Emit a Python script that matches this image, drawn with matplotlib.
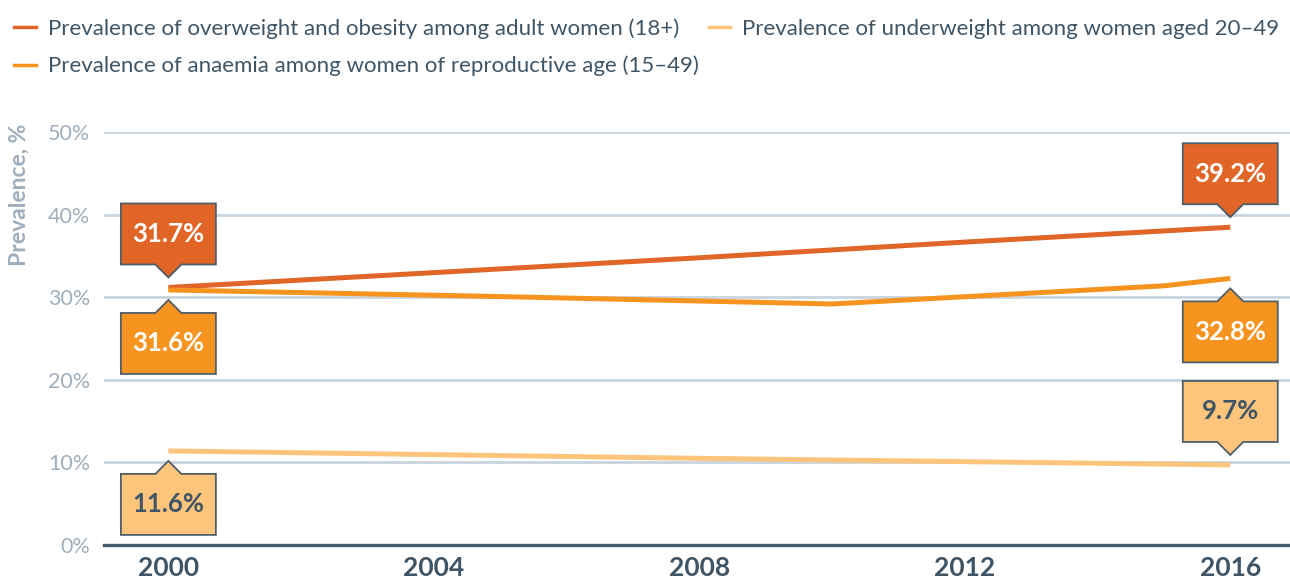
import numpy as np
import matplotlib
matplotlib.use('Agg')
import matplotlib.pyplot as plt
import matplotlib.transforms as mtransforms
from matplotlib.patches import Polygon
from matplotlib.lines import Line2D

plt.rcParams['font.family'] = ['Lato', 'DejaVu Sans']

# data
over_years = [2000, 2004, 2008, 2012, 2016]
over_vals = [31.2, 33.0, 34.8, 36.7, 38.5]
anaemia_years = [2000, 2005, 2010, 2015, 2016]
anaemia_vals = [30.9, 30.1, 29.2, 31.4, 32.3]
under_years = [2000, 2008, 2016]
under_vals = [11.4, 10.5, 9.7]

labels_over = ['31.7%', '39.2%']
labels_anaemia = ['31.6%', '32.8%']
labels_under = ['11.6%', '9.7%']

names = ['Prevalence of overweight and obesity among adult women (18+)',
         'Prevalence of anaemia among women of reproductive age (15\u201349)',
         'Prevalence of underweight among women aged 20\u201349']

x_ticks = [2000, 2004, 2008, 2012, 2016]
y_ticks = [0, 10, 20, 30, 40, 50]

c_over = '#E06526'
c_anaemia = '#F7941F'
c_under = '#FDC57C'
c_dark = '#3F5566'
c_light = '#A0AEBC'
c_grid = '#C9D4DE'
c_edge = '#4F5E6B'

fig = plt.figure(figsize=(12.9, 5.79), dpi=100)
ax = fig.add_axes([104 / 1290, 34 / 579, 1 - 104 / 1290, (545 - 132.3) / 579])
ax.set_xlim(1999.03, 2016.9)
ax.set_ylim(0, 50)

for y in y_ticks[1:]:
    ax.axhline(y, color=c_grid, lw=2, zorder=1)
for s in ['top', 'right', 'left']:
    ax.spines[s].set_visible(False)
ax.spines['bottom'].set_color('#455A6A')
ax.spines['bottom'].set_linewidth(2.4)
ax.spines['bottom'].set_zorder(2)

l1, = ax.plot(over_years, over_vals, color=c_over, lw=3.6, solid_capstyle='butt', zorder=3)
l3, = ax.plot(under_years, under_vals, color=c_under, lw=3.6, solid_capstyle='butt', zorder=3)
l2, = ax.plot(anaemia_years, anaemia_vals, color=c_anaemia, lw=3.6, solid_capstyle='butt', zorder=3)

ax.set_xticks(x_ticks)
ax.set_xticklabels([str(x) for x in x_ticks], fontsize=19, fontweight='bold', color=c_dark)
ax.set_yticks(y_ticks)
ax.set_yticklabels([f'{y}%' for y in y_ticks], fontsize=15.5, color=c_light)
ax.tick_params(axis='both', length=0)
ax.tick_params(axis='x', pad=8)
ax.tick_params(axis='y', pad=10)

fig.text(19 / 1290, 1 - 195 / 579, 'Prevalence, %', rotation=90, ha='center', va='center',
         fontsize=16.5, fontweight='bold', color=c_light)


def callout(x, y, text, face, tcolor, up):
    # box with a pointer; tip sits a little off the line
    w, h, p, hw, gap = 0.95, 0.61, 0.13, 0.13, 0.10
    s = 1 if up else -1
    verts = [(-w / 2, s * (gap + p + h)), (w / 2, s * (gap + p + h)), (w / 2, s * (gap + p)),
             (hw, s * (gap + p)), (0, s * gap), (-hw, s * (gap + p)), (-w / 2, s * (gap + p))]
    tr = fig.dpi_scale_trans + mtransforms.ScaledTranslation(x, y, ax.transData)
    ax.add_patch(Polygon(verts, closed=True, facecolor=face, edgecolor=c_edge, lw=1.3,
                         transform=tr, clip_on=False, zorder=5))
    ax.text(0, s * (gap + p + h / 2), text, transform=tr, ha='center', va='center',
            fontsize=18.5, fontweight='bold', color=tcolor, zorder=6)


callout(over_years[0], over_vals[0], labels_over[0], c_over, 'white', True)
callout(over_years[-1], over_vals[-1], labels_over[1], c_over, 'white', True)
callout(anaemia_years[0], anaemia_vals[0], labels_anaemia[0], c_anaemia, 'white', False)
callout(anaemia_years[-1], anaemia_vals[-1], labels_anaemia[1], c_anaemia, 'white', False)
callout(under_years[0], under_vals[0], labels_under[0], c_under, c_dark, False)
callout(under_years[-1], under_vals[-1], labels_under[1], c_under, c_dark, True)

handles = [Line2D([], [], color=c, lw=2.5) for c in [c_over, c_anaemia, c_under]]
fig.legend(handles, names, ncol=2, loc='upper left', bbox_to_anchor=(0.0, 0.993),
           frameon=False, fontsize=16, labelcolor=c_dark, handlelength=0.95,
           handletextpad=0.55, columnspacing=0.45, labelspacing=0.75, borderaxespad=0.35,
           borderpad=0.3)

fig.savefig('out.png', dpi=100)
